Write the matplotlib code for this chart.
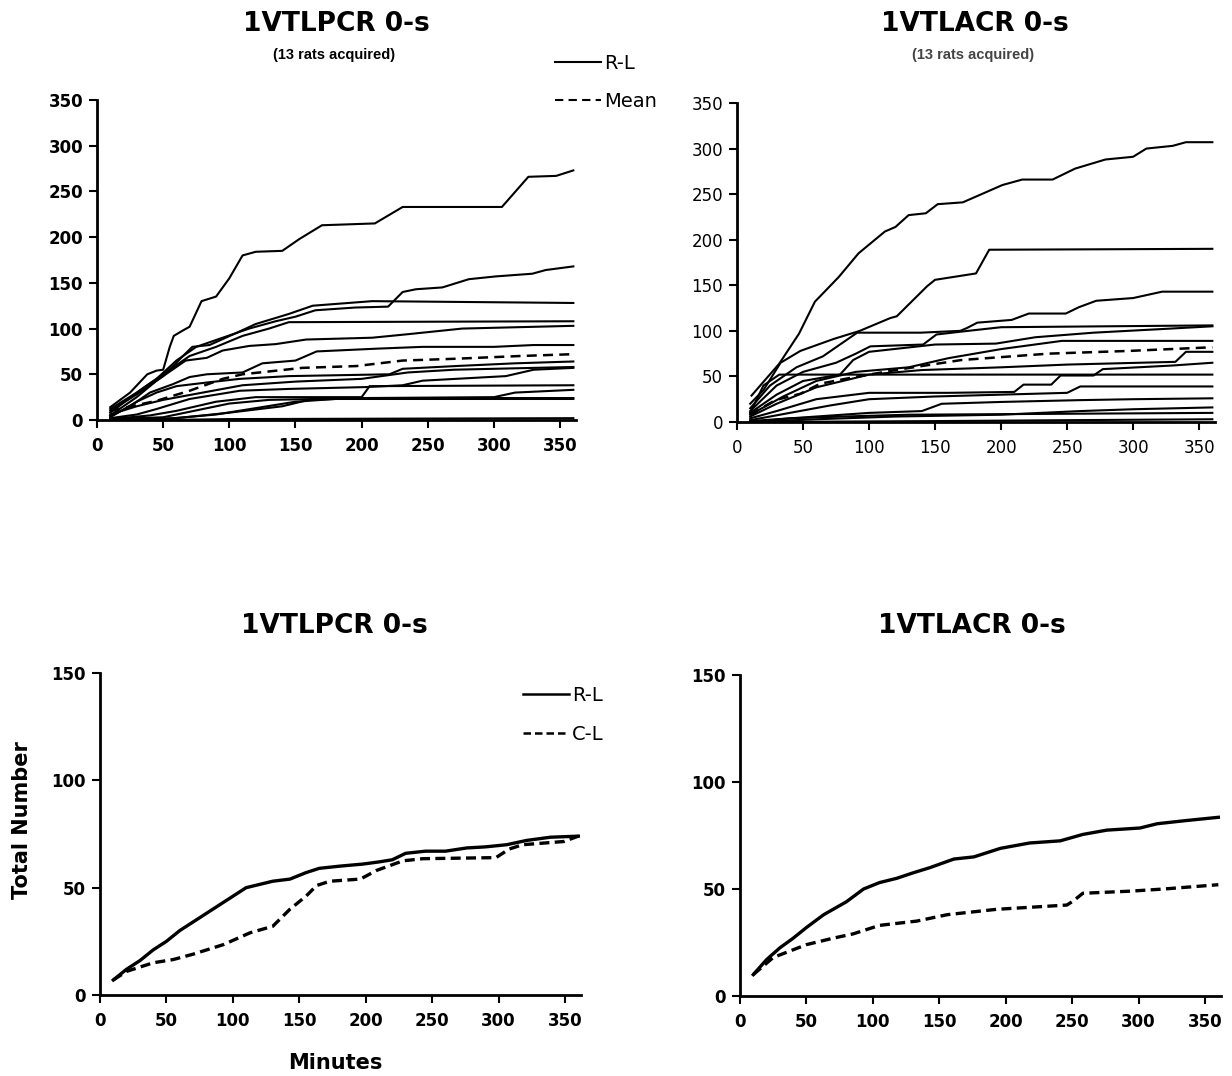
import matplotlib
matplotlib.use("Agg")

import matplotlib.pyplot as plt
from matplotlib.lines import Line2D

plt.rcParams["font.family"] = ["DejaVu Sans"]

# ---- top-left panel: 1VTLPCR, individual rats (minute, count) ----
pcr_rat01 = [(10, 14), (25, 30), (38, 50), (45, 54), (50, 55), (55, 80), (58, 92), (65, 98),
             (70, 102), (79, 130), (90, 135), (100, 155), (110, 180), (120, 184), (140, 185),
             (153, 198), (170, 213), (210, 215), (231, 233), (306, 233), (326, 266), (347, 267),
             (360, 273)]
pcr_rat02 = [(10, 12), (30, 30), (45, 45), (60, 65), (75, 80), (95, 90), (115, 100), (135, 108),
             (150, 113), (165, 120), (195, 123), (220, 124), (231, 140), (241, 143), (261, 145),
             (281, 154), (301, 157), (329, 160), (339, 164), (360, 168)]
pcr_rat03 = [(10, 10), (30, 28), (50, 48), (65, 70), (72, 80), (85, 82), (105, 95), (120, 105),
             (145, 116), (163, 125), (208, 130), (360, 128)]
pcr_rat04 = [(10, 8), (35, 35), (55, 55), (70, 70), (90, 80), (110, 92), (130, 100), (145, 107),
             (360, 108)]
pcr_rat05 = [(10, 5), (30, 25), (45, 43), (67, 65), (83, 68), (95, 76), (115, 81), (135, 83),
             (158, 88), (208, 90), (236, 94), (276, 100), (360, 103)]
pcr_rat06 = [(10, 4), (25, 15), (40, 30), (57, 39), (70, 47), (83, 50), (110, 52), (125, 62),
             (150, 65), (166, 75), (211, 78), (246, 80), (300, 80), (330, 82), (360, 82)]
pcr_rat07 = [(10, 3), (30, 20), (45, 30), (60, 37), (83, 41), (108, 45), (145, 48), (221, 50),
             (231, 56), (271, 59), (316, 62), (360, 64)]
pcr_rat08 = [(10, 2), (30, 6), (45, 12), (70, 23), (108, 32), (145, 34), (203, 36), (231, 38),
             (246, 43), (309, 48), (330, 55), (360, 57)]
pcr_rat09 = [(10, 6), (30, 15), (50, 22), (80, 30), (110, 38), (150, 42), (200, 45), (235, 52),
             (270, 55), (300, 56), (360, 58)]
pcr_rat10 = [(10, 1), (40, 5), (60, 10), (90, 20), (120, 25), (200, 25), (206, 37), (360, 38)]
pcr_rat11 = [(10, 1), (50, 3), (80, 12), (100, 18), (130, 22), (200, 24), (300, 25), (316, 30),
             (360, 33)]
pcr_rat12 = [(10, 0), (60, 2), (100, 8), (140, 15), (160, 22), (200, 24), (360, 24)]
pcr_rat13 = [(10, 0), (50, 1), (90, 6), (120, 13), (150, 20), (180, 23), (360, 23)]
pcr_rat14 = [(10, 0), (50, 0), (100, 1), (360, 2)]
pcr_mean = [(10, 10), (45, 21), (70, 32), (95, 45), (110, 50), (155, 57), (196, 59), (231, 65),
            (271, 67), (320, 70), (360, 72)]

# ---- top-right panel: 1VTLACR, individual rats ----
acr_rat01 = [(11, 29), (32, 64), (47, 97), (59, 132), (77, 159), (92, 185), (112, 209), (120, 214),
             (130, 227), (143, 229), (152, 239), (171, 241), (201, 260), (216, 266), (239, 266),
             (256, 278), (279, 288), (300, 291), (310, 300), (330, 303), (340, 307), (360, 307)]
acr_rat02 = [(10, 20), (20, 35), (33, 65), (48, 78), (73, 91), (93, 100), (116, 114), (121, 116),
             (144, 149), (150, 156), (181, 163), (191, 189), (360, 190)]
acr_rat03 = [(10, 15), (25, 40), (45, 60), (65, 72), (91, 98), (139, 98), (169, 100), (174, 103),
             (182, 109), (208, 112), (221, 119), (249, 119), (259, 126), (272, 133), (300, 136),
             (322, 143), (360, 143)]
acr_rat04 = [(10, 12), (30, 40), (50, 55), (75, 65), (90, 75), (101, 83), (141, 85), (151, 96),
             (175, 100), (200, 104), (360, 106)]
acr_rat05 = [(10, 10), (30, 30), (50, 45), (78, 52), (88, 68), (100, 77), (150, 85), (196, 86),
             (226, 93), (270, 98), (322, 102), (360, 105)]
acr_rat06 = [(10, 8), (35, 28), (60, 45), (90, 55), (130, 60), (160, 70), (200, 80), (246, 89),
             (360, 89)]
acr_rat07 = [(10, 6), (30, 20), (60, 38), (100, 52), (140, 57), (200, 60), (250, 63), (332, 66),
             (340, 77), (360, 77)]
acr_rat08 = [(10, 4), (30, 12), (60, 25), (100, 32), (160, 32), (210, 33), (217, 41), (238, 41),
             (245, 51), (270, 51), (277, 58), (330, 62), (360, 65)]
acr_rat09 = [(10, 10), (20, 40), (32, 52), (360, 52)]
acr_rat10 = [(10, 2), (40, 10), (70, 18), (100, 25), (150, 28), (200, 30), (250, 32), (260, 39),
             (360, 39)]
acr_rat11 = [(10, 1), (50, 5), (100, 10), (140, 12), (155, 20), (200, 22), (260, 24), (300, 25),
             (360, 26)]
acr_rat12 = [(10, 0), (60, 3), (120, 6), (200, 8), (260, 12), (300, 14), (360, 16)]
acr_rat13 = [(10, 0), (40, 4), (80, 6), (130, 8), (360, 10)]
acr_rat14 = [(10, 0), (150, 1), (250, 2), (360, 3)]
acr_mean = [(10, 8), (29, 24), (48, 31), (63, 42), (88, 49), (120, 57), (170, 68), (236, 75),
            (297, 78), (360, 82)]

# ---- bottom panels: group means R-L vs C-L ----
pcr_rl = [(10, 7), (20, 12), (30, 16), (40, 21), (50, 25), (60, 30), (70, 34), (80, 38), (90, 42),
          (100, 46), (110, 50), (120, 51.5), (130, 53), (143, 54), (155, 57), (165, 59), (180, 60),
          (198, 61), (210, 62), (220, 63), (230, 66), (245, 67), (260, 67), (276, 68.5), (290, 69),
          (306, 70), (321, 72), (339, 73.5), (360, 74)]
pcr_cl = [(10, 7), (20, 11), (30, 13), (40, 15), (55, 16.5), (70, 19), (93, 23.5), (113, 29),
          (130, 32), (143, 40), (155, 46), (163, 51), (173, 53), (196, 54), (208, 58), (228, 62.5),
          (243, 63.5), (298, 64), (308, 68), (318, 70), (349, 71.5), (360, 74)]
acr_rl = [(10, 10), (20, 17), (30, 22.5), (40, 27), (50, 32), (63, 38), (80, 44), (93, 50),
          (105, 53), (118, 55), (130, 57.5), (143, 60), (161, 64), (176, 65), (196, 69), (218, 71.5),
          (241, 72.5), (258, 75.5), (276, 77.5), (301, 78.5), (314, 80.5), (336, 82), (360, 83.5)]
acr_cl = [(10, 10), (25, 18), (50, 24), (70, 27), (85, 29), (105, 33), (133, 35), (156, 38),
          (193, 40.5), (246, 42.5), (251, 44.5), (258, 48), (294, 49), (319, 50), (360, 52)]

pcr_rats = [pcr_rat01, pcr_rat02, pcr_rat03, pcr_rat04, pcr_rat05, pcr_rat06, pcr_rat07,
            pcr_rat08, pcr_rat09, pcr_rat10, pcr_rat11, pcr_rat12, pcr_rat13, pcr_rat14]
acr_rats = [acr_rat01, acr_rat02, acr_rat03, acr_rat04, acr_rat05, acr_rat06, acr_rat07,
            acr_rat08, acr_rat09, acr_rat10, acr_rat11, acr_rat12, acr_rat13, acr_rat14]

W, H = 1232, 1076
MEAN_DASH = (0, (4, 2.5))
CL_DASH = (0, (3, 1.6))


def _rect(x0, x1, y_bot, y_top):
    return [x0 / W, 1 - y_bot / H, (x1 - x0) / W, (y_bot - y_top) / H]


def _xy(pts):
    return [p[0] for p in pts], [p[1] for p in pts]


def _style(ax, ymax, weight):
    for s in ("top", "right"):
        ax.spines[s].set_visible(False)
    for s in ("left", "bottom"):
        ax.spines[s].set_linewidth(2.0)
    ax.set_xlim(0, 362)
    ax.set_ylim(0, ymax)
    ax.set_xticks(range(0, 351, 50))
    ax.set_yticks(range(0, ymax + 1, 50))
    ax.tick_params(direction="out", length=6, width=1.5, labelsize=12, pad=4)
    ax.tick_params(axis="x", pad=6)
    for lbl in ax.get_xticklabels() + ax.get_yticklabels():
        lbl.set_fontweight(weight)


fig = plt.figure(figsize=(W / 100, H / 100), dpi=100)

ax_tl = fig.add_axes(_rect(97, 576, 420, 100))
ax_tr = fig.add_axes(_rect(737, 1215, 422, 103))
ax_bl = fig.add_axes(_rect(100, 581, 995, 673))
ax_br = fig.add_axes(_rect(740, 1221, 996, 675))

for ax, rats, mean, weight in [(ax_tl, pcr_rats, pcr_mean, "bold"),
                               (ax_tr, acr_rats, acr_mean, "normal")]:
    for r in rats:
        x, y = _xy(r)
        ax.plot(x, y, color="black", linewidth=1.5, solid_joinstyle="round")
    x, y = _xy(mean)
    ax.plot(x, y, color="black", linewidth=1.8, linestyle=MEAN_DASH)
    _style(ax, 350, weight)

for ax, rl, cl in [(ax_bl, pcr_rl, pcr_cl), (ax_br, acr_rl, acr_cl)]:
    x, y = _xy(rl)
    ax.plot(x, y, color="black", linewidth=2.4)
    x, y = _xy(cl)
    ax.plot(x, y, color="black", linewidth=2.4, linestyle=CL_DASH)
    _style(ax, 150, "bold")

# titles
title_kw = dict(ha="center", va="center", fontsize=19, fontweight="bold")
sub_kw = dict(ha="center", va="center", fontsize=10.5, fontweight="bold",
              family="Liberation Sans")
fig.text(336 / W, 1 - 24 / H, "1VTLPCR 0-s", **title_kw)
fig.text(334 / W, 1 - 55 / H, "(13 rats acquired)", **sub_kw)
fig.text(975 / W, 1 - 24 / H, "1VTLACR 0-s", **title_kw)
fig.text(973 / W, 1 - 55 / H, "(13 rats acquired)", color="#444444", **sub_kw)
fig.text(334 / W, 1 - 626 / H, "1VTLPCR 0-s", **title_kw)
fig.text(972 / W, 1 - 626 / H, "1VTLACR 0-s", **title_kw)

# axis labels
fig.text(22 / W, 1 - 820 / H, "Total Number", rotation=90, ha="center", va="center",
         fontsize=15, fontweight="bold")
fig.text(335 / W, 1 - 1063 / H, "Minutes", ha="center", va="center", fontsize=15,
         fontweight="bold")

# legends
top_handles = [Line2D([], [], color="black", linewidth=1.5),
               Line2D([], [], color="black", linewidth=1.5, linestyle=MEAN_DASH)]
fig.legend(top_handles, ["R-L", "Mean"], loc="upper left",
           bbox_to_anchor=(545 / W, 1 - 44 / H), frameon=False, fontsize=14,
           handlelength=2.4, handletextpad=0.15, labelspacing=1.0, borderpad=0)

bot_handles = [Line2D([], [], color="black", linewidth=1.8),
               Line2D([], [], color="black", linewidth=1.8, linestyle=CL_DASH)]
ax_bl.legend(bot_handles, ["R-L", "C-L"], loc="upper left",
             bbox_to_anchor=(513 / W, 1 - 676 / H), bbox_transform=fig.transFigure,
             frameon=False, fontsize=14, handlelength=2.4, handletextpad=0.15,
             labelspacing=1.05, borderpad=0)

fig.savefig("out.png", dpi=100)
